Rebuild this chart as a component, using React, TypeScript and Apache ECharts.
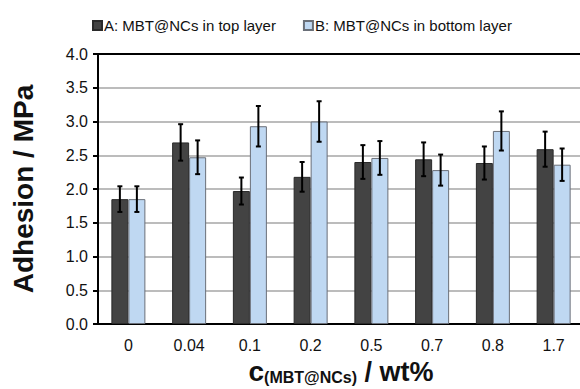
import React, { useEffect, useRef } from "react";
import * as echarts from "echarts";

const categories = ["0", "0.04", "0.1", "0.2", "0.5", "0.7", "0.8", "1.7"];
const seriesNames = ["A: MBT@NCs in top layer", "B: MBT@NCs in bottom layer"];
const topLayer = [1.85, 2.69, 1.97, 2.18, 2.4, 2.44, 2.385, 2.59];
const bottomLayer = [1.85, 2.47, 2.93, 3.0, 2.46, 2.28, 2.86, 2.36];
const topLayerErr = [0.19, 0.27, 0.2, 0.22, 0.25, 0.25, 0.245, 0.26];
const bottomLayerErr = [0.19, 0.25, 0.3, 0.3, 0.25, 0.23, 0.29, 0.24];

const FONT = "'Liberation Sans', Arial, sans-serif";
const BAR_W = 17;

function errorSeries(values: number[], errs: number[], sign: number) {
  return {
    type: "custom",
    silent: true,
    z: 10,
    encode: { x: 0, y: [1, 2] },
    data: values.map((v, i) => [i, v - errs[i], v + errs[i]]),
    renderItem: (params: any, api: any) => {
      const idx = api.value(0);
      const lo = api.coord([idx, api.value(1)]);
      const hi = api.coord([idx, api.value(2)]);
      const x = lo[0] + (sign * BAR_W) / 2;
      const cap = 2.5;
      const style = { stroke: "#000", lineWidth: 2 };
      return {
        type: "group",
        children: [
          { type: "line", shape: { x1: x, y1: hi[1], x2: x, y2: lo[1] }, style },
          { type: "line", shape: { x1: x - cap, y1: hi[1], x2: x + cap, y2: hi[1] }, style },
          { type: "line", shape: { x1: x - cap, y1: lo[1], x2: x + cap, y2: lo[1] }, style },
        ],
      };
    },
  };
}

export default function App() {
  const ref = useRef<HTMLDivElement>(null);
  useEffect(() => {
    if (!ref.current) return;
    const chart = echarts.init(ref.current, undefined, { renderer: "svg" });
    chart.setOption({
      animation: false,
      textStyle: { fontFamily: FONT },
      legend: {
        top: 13,
        left: 87,
        itemWidth: 9,
        itemHeight: 9,
        itemGap: 27,
        icon: "rect",
        textStyle: { fontSize: 15, color: "#111", fontFamily: FONT, padding: [0, 0, 0, -3] },
        data: seriesNames,
      },
      grid: { left: 98, top: 54, bottom: 65, right: 2, outerBoundsMode: "none", containLabel: false },
      xAxis: [
        {
          type: "category",
          data: categories,
          axisLine: { lineStyle: { color: "#000", width: 2 } },
          axisTick: { length: 5, lineStyle: { color: "#000", width: 2 } },
          axisLabel: { fontSize: 16, color: "#111", margin: 13, fontFamily: FONT },
          name: "{c|c}{s|(MBT@NCs)}{m| / wt%}",
          nameLocation: "middle",
          nameGap: 34,
          nameTextStyle: {
            rich: {
              c: { fontSize: 28, fontWeight: "bold", color: "#111", fontFamily: FONT, verticalAlign: "bottom", lineHeight: 26 },
              s: { fontSize: 16, fontWeight: "bold", color: "#111", fontFamily: FONT, verticalAlign: "bottom", lineHeight: 12 },
              m: { fontSize: 27, fontWeight: "bold", color: "#111", fontFamily: FONT, verticalAlign: "bottom", lineHeight: 26 },
            },
          },
        },
        {
          type: "category",
          data: categories,
          position: "top",
          axisLine: { lineStyle: { color: "#000", width: 2 } },
          axisTick: { show: false },
          axisLabel: { show: false },
        },
      ],
      yAxis: {
        type: "value",
        min: 0,
        max: 4,
        interval: 0.5,
        axisLine: { show: true, lineStyle: { color: "#000", width: 2 } },
        axisTick: { show: true, length: 5, lineStyle: { color: "#000", width: 2 } },
        axisLabel: { fontSize: 16, color: "#111", margin: 10, fontFamily: FONT, formatter: (v: number) => v.toFixed(1) },
        splitLine: { lineStyle: { color: "#a6a6a6", width: 1.5 } },
        name: "Adhesion / MPa",
        nameLocation: "middle",
        nameGap: 61,
        nameTextStyle: { fontSize: 28, fontWeight: "bold", color: "#111", fontFamily: FONT },
      },
      series: [
        {
          name: seriesNames[0],
          type: "bar",
          data: topLayer,
          barWidth: BAR_W,
          barGap: "0%",
          itemStyle: { color: "#434343", borderColor: "#2a2a2a", borderWidth: 1 },
        },
        {
          name: seriesNames[1],
          type: "bar",
          data: bottomLayer,
          barWidth: BAR_W,
          barGap: "0%",
          itemStyle: { color: "#bfd8f2", borderColor: "#6a6f78", borderWidth: 1 },
        },
        errorSeries(topLayer, topLayerErr, -1),
        errorSeries(bottomLayer, bottomLayerErr, 1),
      ],
    });
    return () => chart.dispose();
  }, []);
  return (
    <div style={{ position: "absolute", left: 0, top: 0, width: 580, height: 389, overflow: "hidden" }}>
      <div ref={ref} style={{ width: 586, height: 389 }} />
    </div>
  );
}
